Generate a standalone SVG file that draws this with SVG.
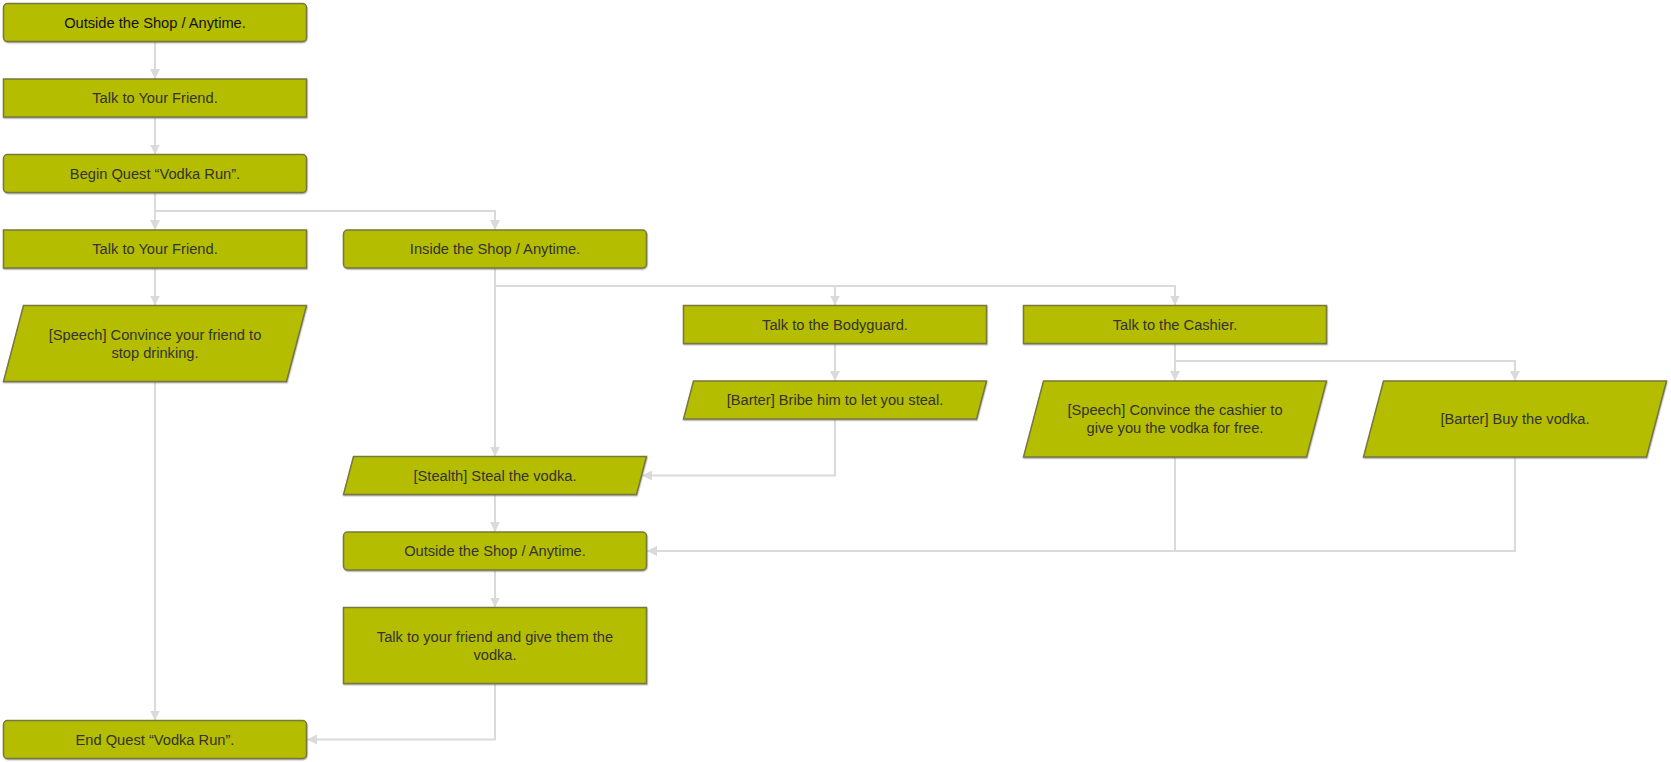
<svg xmlns="http://www.w3.org/2000/svg" width="1671" height="762" viewBox="0 0 1671 762">
<defs>
<style>
.n{fill:#b5bd00;stroke:#77773f;stroke-width:1.5;filter:url(#sh)}
.t{font-family:"Liberation Sans",Arial,sans-serif;font-size:14.67px;fill:#333;text-anchor:middle}
.c{fill:none;stroke:#dadada;stroke-width:2}
</style>
<filter id="sh" x="-5%" y="-20%" width="110%" height="150%">
<feDropShadow dx="0.5" dy="1.2" stdDeviation="0.6" flood-color="#666" flood-opacity="0.5"/>
</filter>
<marker id="a" markerWidth="11" markerHeight="11" refX="10" refY="5" orient="auto" markerUnits="userSpaceOnUse">
<path d="M0,0 L10,5 L0,10 z" fill="#dadada"/>
</marker>
</defs>
<rect width="1671" height="762" fill="#fff"/>
<g id="connectors">
<path class="c" d="M155,41.5 V79" marker-end="url(#a)"/>
<path class="c" d="M155,117 V154.5" marker-end="url(#a)"/>
<path class="c" d="M155,192.5 V230" marker-end="url(#a)"/>
<path class="c" d="M155,192.5 V211 H495 V230" marker-end="url(#a)"/>
<path class="c" d="M155,268 V305.5" marker-end="url(#a)"/>
<path class="c" d="M155,381.5 V720.5" marker-end="url(#a)"/>
<path class="c" d="M495,268 V456.5" marker-end="url(#a)"/>
<path class="c" d="M495,268 V286 H835 V305.5" marker-end="url(#a)"/>
<path class="c" d="M495,268 V286 H1175 V305.5" marker-end="url(#a)"/>
<path class="c" d="M835,343.5 V381" marker-end="url(#a)"/>
<path class="c" d="M835,419 V475.5 H642" marker-end="url(#a)"/>
<path class="c" d="M1175,343.5 V381" marker-end="url(#a)"/>
<path class="c" d="M1175,343.5 V361 H1515 V381" marker-end="url(#a)"/>
<path class="c" d="M1515,457 V551 H1175"/>
<path class="c" d="M1175,457 V551 H647" marker-end="url(#a)"/>
<path class="c" d="M495,494.5 V532" marker-end="url(#a)"/>
<path class="c" d="M495,570 V607.5" marker-end="url(#a)"/>
<path class="c" d="M495,683.5 V739.5 H307" marker-end="url(#a)"/>
</g>
<g id="n1"><rect class="n" x="3.5" y="3.5" width="303" height="38" rx="4"/><text class="t" x="155" y="27.5" style="fill:#111">Outside the Shop / Anytime.</text></g>
<g id="n2"><rect class="n" x="3.5" y="79" width="303" height="38"/><text class="t" x="155" y="103">Talk to Your Friend.</text></g>
<g id="n3"><rect class="n" x="3.5" y="154.5" width="303" height="38" rx="4"/><text class="t" x="155" y="178.5">Begin Quest “Vodka Run”.</text></g>
<g id="n4"><rect class="n" x="3.5" y="230" width="303" height="38"/><text class="t" x="155" y="254">Talk to Your Friend.</text></g>
<g id="n5"><rect class="n" x="343.5" y="230" width="303" height="38" rx="4"/><text class="t" x="495" y="254">Inside the Shop / Anytime.</text></g>
<g id="n6"><polygon class="n" points="23.5,305.5 306.5,305.5 286.5,381.5 3.5,381.5"/><text class="t" x="155" y="339.5">[Speech] Convince your friend to</text><text class="t" x="155" y="357.5">stop drinking.</text></g>
<g id="n7"><rect class="n" x="683.5" y="305.5" width="303" height="38"/><text class="t" x="835" y="329.5">Talk to the Bodyguard.</text></g>
<g id="n8"><rect class="n" x="1023.5" y="305.5" width="303" height="38"/><text class="t" x="1175" y="329.5">Talk to the Cashier.</text></g>
<g id="n9"><polygon class="n" points="693.5,381 986.5,381 976.5,419 683.5,419"/><text class="t" x="835" y="405">[Barter] Bribe him to let you steal.</text></g>
<g id="n10"><polygon class="n" points="1043.5,381 1326.5,381 1306.5,457 1023.5,457"/><text class="t" x="1175" y="415">[Speech] Convince the cashier to</text><text class="t" x="1175" y="433">give you the vodka for free.</text></g>
<g id="n11"><polygon class="n" points="1383.5,381 1666.5,381 1646.5,457 1363.5,457"/><text class="t" x="1515" y="424">[Barter] Buy the vodka.</text></g>
<g id="n12"><polygon class="n" points="353.5,456.5 646.5,456.5 636.5,494.5 343.5,494.5"/><text class="t" x="495" y="480.5">[Stealth] Steal the vodka.</text></g>
<g id="n13"><rect class="n" x="343.5" y="532" width="303" height="38" rx="4"/><text class="t" x="495" y="556">Outside the Shop / Anytime.</text></g>
<g id="n14"><rect class="n" x="343.5" y="607.5" width="303" height="76"/><text class="t" x="495" y="641.5">Talk to your friend and give them the</text><text class="t" x="495" y="659.5">vodka.</text></g>
<g id="n15"><rect class="n" x="3.5" y="720.5" width="303" height="38" rx="4"/><text class="t" x="155" y="744.5">End Quest “Vodka Run”.</text></g>
</svg>
